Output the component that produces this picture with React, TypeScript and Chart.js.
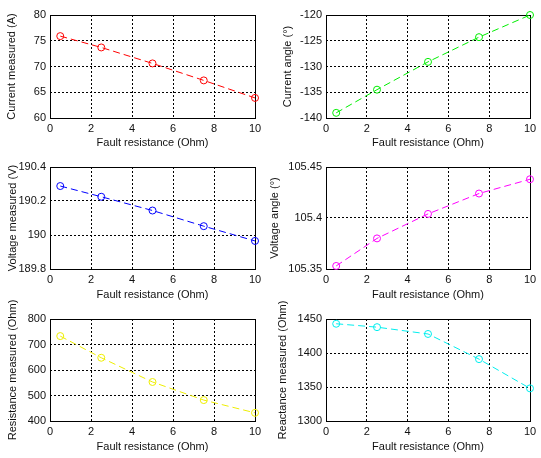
import React, { useEffect, useRef } from "react";
import { Chart, registerables } from "chart.js";

Chart.register(...registerables);

// Data
const faultResistance = [0.5, 2.5, 5, 7.5, 10];
const currentMeasured = [75.9, 73.7, 70.6, 67.3, 63.9];
const currentAngle = [-139.0, -134.5, -129.1, -124.3, -120.0];
const voltageMeasured = [190.288, 190.225, 190.144, 190.052, 189.965];
const voltageAngle = [105.353, 105.38, 105.404, 105.424, 105.438];
const resistanceMeasured = [733, 648, 553, 482, 432];
const reactanceMeasured = [1443, 1438, 1428, 1391, 1348];

const xAxisTitle = "Fault resistance (Ohm)";
const xRange = [0, 10];
const xStep = 2;

type Panel = {
  title: string;
  values: number[];
  color: string;
  yMin: number;
  yMax: number;
  yStep: number;
  canvas: { left: number; top: number; w: number; h: number };
  area: { left: number; top: number; right: number; bottom: number };
  yTitleX: number;
  xTitleY: number;
};

const COLS = [
  { canvasLeft: 0, canvasW: 270, left: 50, right: 255 },
  { canvasLeft: 265, canvasW: 276, left: 326, right: 530 },
];
const ROWS = [
  { canvasTop: 0, canvasH: 150, top: 15, bottom: 118, xTitleY: 143 },
  { canvasTop: 150, canvasH: 155, top: 167, bottom: 269, xTitleY: 295 },
  { canvasTop: 280, canvasH: 178, top: 319, bottom: 421, xTitleY: 447 },
];

function mk(
  row: number,
  col: number,
  title: string,
  values: number[],
  color: string,
  yMin: number,
  yMax: number,
  yStep: number,
  yTitleX: number
): Panel {
  const c = COLS[col];
  const r = ROWS[row];
  return {
    title,
    values,
    color,
    yMin,
    yMax,
    yStep,
    canvas: { left: c.canvasLeft, top: r.canvasTop, w: c.canvasW, h: r.canvasH },
    area: { left: c.left, top: r.top, right: c.right, bottom: r.bottom },
    yTitleX,
    xTitleY: r.xTitleY,
  };
}

const panels: Panel[] = [
  mk(0, 0, "Current measured (A)", currentMeasured, "#ff0000", 60, 80, 5, 12),
  mk(0, 1, "Current angle (\u00b0)", currentAngle, "#00ee00", -140, -120, 5, 288),
  mk(1, 0, "Voltage measured (V)", voltageMeasured, "#0000ff", 189.8, 190.4, 0.2, 13),
  mk(1, 1, "Voltage angle (\u00b0)", voltageAngle, "#ff00ff", 105.35, 105.45, 0.05, 275),
  mk(2, 0, "Resistance measured (Ohm)", resistanceMeasured, "#eeee00", 400, 800, 100, 13),
  mk(2, 1, "Reactance measured (Ohm)", reactanceMeasured, "#00eeee", 1300, 1450, 50, 283),
];

const FONT = { family: "'Liberation Sans', Arial, sans-serif", size: 11 };
const LINE_H = FONT.size * 1.2;
const TEXT = "#111";

const boxPlugin = {
  id: "matlabBox",
  beforeDatasetsDraw(chart: any) {
    const { ctx, chartArea } = chart;
    const l = Math.round(chartArea.left);
    const t = Math.round(chartArea.top);
    const r = Math.round(chartArea.right);
    const b = Math.round(chartArea.bottom);
    ctx.save();
    ctx.setLineDash([]);
    ctx.strokeStyle = "#000";
    ctx.lineWidth = 1;
    ctx.strokeRect(l + 0.5, t + 0.5, r - l, b - t);
    ctx.restore();
  },
};

function fmt(v: number) {
  return String(parseFloat(Number(v).toFixed(4)));
}

function SubPlot({ p }: { p: Panel }) {
  const ref = useRef<HTMLCanvasElement | null>(null);
  useEffect(() => {
    if (!ref.current) return;
    const yWidth = p.area.left - p.canvas.left;
    const xHeight = p.canvas.top + p.canvas.h - p.area.bottom;
    const chart = new Chart(ref.current, {
      type: "line",
      data: {
        datasets: [
          {
            data: faultResistance.map((x, i) => ({ x, y: p.values[i] })),
            borderColor: p.color,
            borderWidth: 1,
            borderDash: [7, 4],
            pointStyle: "circle",
            pointRadius: 3.5,
            pointBorderWidth: 1,
            pointBorderColor: p.color,
            pointBackgroundColor: "rgba(0,0,0,0)",
            fill: false,
            tension: 0,
            clip: false as any,
          },
        ],
      },
      options: {
        animation: false,
        responsive: false,
        events: [],
        layout: {
          padding: {
            left: 0,
            top: p.area.top - p.canvas.top,
            right: p.canvas.left + p.canvas.w - p.area.right,
            bottom: 0,
          },
        },
        plugins: {
          legend: { display: false },
          tooltip: { enabled: false },
          title: { display: false },
        },
        scales: {
          x: {
            type: "linear",
            min: xRange[0],
            max: xRange[1],
            afterFit: (s: any) => {
              s.height = xHeight;
            },
            ticks: {
              stepSize: xStep,
              font: FONT,
              color: TEXT,
              padding: 4,
              maxRotation: 0,
            },
            grid: { color: "#000", lineWidth: 1, drawTicks: false },
            border: { display: false, dash: [2, 2] },
            title: {
              display: true,
              text: xAxisTitle,
              font: FONT,
              color: TEXT,
              padding: {
                top: 0,
                bottom: p.canvas.top + p.canvas.h - p.xTitleY - LINE_H / 2,
              },
            },
          },
          y: {
            type: "linear",
            min: p.yMin,
            max: p.yMax,
            afterFit: (s: any) => {
              s.width = yWidth;
            },
            ticks: {
              stepSize: p.yStep,
              font: FONT,
              color: TEXT,
              padding: 4,
              callback: (v: any) => fmt(v),
            },
            grid: { color: "#000", lineWidth: 1, drawTicks: false },
            border: { display: false, dash: [2, 2] },
            title: {
              display: true,
              text: p.title,
              font: FONT,
              color: TEXT,
              padding: {
                top: p.yTitleX - p.canvas.left - LINE_H / 2,
                bottom: 0,
              },
            },
          },
        },
      },
      plugins: [boxPlugin],
    } as any);
    return () => chart.destroy();
  }, [p]);

  return (
    <canvas
      ref={ref}
      width={p.canvas.w}
      height={p.canvas.h}
      style={{
        position: "absolute",
        left: p.canvas.left,
        top: p.canvas.top,
        width: p.canvas.w,
        height: p.canvas.h,
      }}
    />
  );
}

export default function App() {
  return (
    <div
      style={{
        position: "absolute",
        left: 0,
        top: 0,
        width: 541,
        height: 458,
        background: "#fff",
        overflow: "hidden",
      }}
    >
      {panels.map((p, i) => (
        <SubPlot key={i} p={p} />
      ))}
    </div>
  );
}
